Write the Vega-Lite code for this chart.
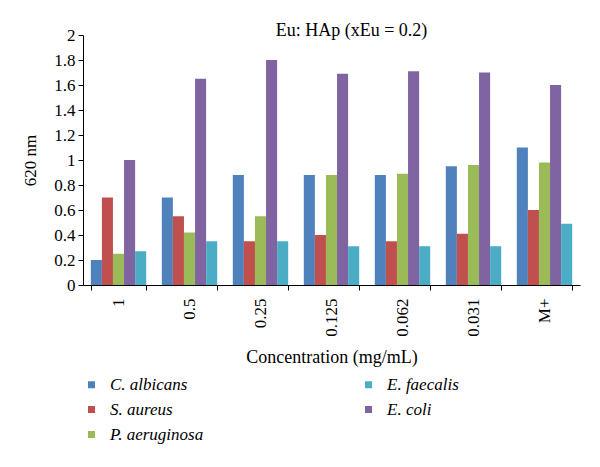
{
  "$schema": "https://vega.github.io/schema/vega-lite/v6.json",
  "width": 497,
  "height": 250,
  "autosize": {"type": "none"},
  "padding": {"left": 83, "top": 35, "right": 20, "bottom": 182},
  "background": "white",
  "config": {
    "font": "Liberation Serif, serif",
    "view": {"stroke": null},
    "axis": {"domainColor": "#000", "tickColor": "#000", "labelColor": "#000", "titleColor": "#000", "grid": false, "labelFont": "Liberation Serif, serif", "titleFont": "Liberation Serif, serif", "titleFontWeight": "normal"},
    "legend": {"labelFont": "Liberation Serif, serif"},
    "title": {"font": "Liberation Serif, serif"}
  },
  "title": {"text": "Eu: HAp (xEu = 0.2)", "fontSize": 18, "fontWeight": "normal", "color": "#000", "anchor": "middle", "dx": 20, "offset": -14},
  "data": {"values": [
    {"c": "1", "s": "C. albicans", "v": 0.2},
    {"c": "1", "s": "S. aureus", "v": 0.7},
    {"c": "1", "s": "P. aeruginosa", "v": 0.25},
    {"c": "1", "s": "E. coli", "v": 1.0},
    {"c": "1", "s": "E. faecalis", "v": 0.27},
    {"c": "0.5", "s": "C. albicans", "v": 0.7},
    {"c": "0.5", "s": "S. aureus", "v": 0.55},
    {"c": "0.5", "s": "P. aeruginosa", "v": 0.42},
    {"c": "0.5", "s": "E. coli", "v": 1.65},
    {"c": "0.5", "s": "E. faecalis", "v": 0.35},
    {"c": "0.25", "s": "C. albicans", "v": 0.88},
    {"c": "0.25", "s": "S. aureus", "v": 0.35},
    {"c": "0.25", "s": "P. aeruginosa", "v": 0.55},
    {"c": "0.25", "s": "E. coli", "v": 1.8},
    {"c": "0.25", "s": "E. faecalis", "v": 0.35},
    {"c": "0.125", "s": "C. albicans", "v": 0.88},
    {"c": "0.125", "s": "S. aureus", "v": 0.4},
    {"c": "0.125", "s": "P. aeruginosa", "v": 0.88},
    {"c": "0.125", "s": "E. coli", "v": 1.69},
    {"c": "0.125", "s": "E. faecalis", "v": 0.31},
    {"c": "0.062", "s": "C. albicans", "v": 0.88},
    {"c": "0.062", "s": "S. aureus", "v": 0.35},
    {"c": "0.062", "s": "P. aeruginosa", "v": 0.89},
    {"c": "0.062", "s": "E. coli", "v": 1.71},
    {"c": "0.062", "s": "E. faecalis", "v": 0.31},
    {"c": "0.031", "s": "C. albicans", "v": 0.95},
    {"c": "0.031", "s": "S. aureus", "v": 0.41},
    {"c": "0.031", "s": "P. aeruginosa", "v": 0.96},
    {"c": "0.031", "s": "E. coli", "v": 1.7},
    {"c": "0.031", "s": "E. faecalis", "v": 0.31},
    {"c": "M+", "s": "C. albicans", "v": 1.1},
    {"c": "M+", "s": "S. aureus", "v": 0.6},
    {"c": "M+", "s": "P. aeruginosa", "v": 0.98},
    {"c": "M+", "s": "E. coli", "v": 1.6},
    {"c": "M+", "s": "E. faecalis", "v": 0.49}
  ]},
  "mark": {"type": "bar"},
  "encoding": {
    "x": {
      "field": "c", "type": "nominal",
      "sort": ["1", "0.5", "0.25", "0.125", "0.062", "0.031", "M+"],
      "scale": {"paddingInner": 0.22, "paddingOuter": 0.11},
      "axis": {"title": "Concentration (mg/mL)", "titleFontSize": 18, "labelFontSize": 17, "labelAngle": -90, "labelAlign": "right", "labelBaseline": "middle", "tickBand": "extent", "tickSize": 5, "labelPadding": 8, "titlePadding": 12}
    },
    "xOffset": {
      "field": "s", "type": "nominal",
      "sort": ["C. albicans", "S. aureus", "P. aeruginosa", "E. coli", "E. faecalis"],
      "scale": {"paddingInner": 0, "paddingOuter": 0}
    },
    "y": {
      "field": "v", "type": "quantitative",
      "scale": {"domain": [0, 2], "nice": false},
      "axis": {"title": "620 nm", "titleFontSize": 17, "labelFontSize": 17, "format": "~g", "values": [0, 0.2, 0.4, 0.6, 0.8, 1, 1.2, 1.4, 1.6, 1.8, 2], "tickSize": 5, "labelPadding": 3, "titlePadding": 14, "labelFlush": false}
    },
    "color": {
      "field": "s", "type": "nominal",
      "scale": {
        "domain": ["C. albicans", "S. aureus", "P. aeruginosa", "E. faecalis", "E. coli"],
        "range": ["#4F81BD", "#C0504D", "#9BBB59", "#4BACC6", "#8064A2"]
      },
      "legend": {"title": null, "orient": "none", "legendX": 0, "legendY": 341, "columns": 2, "columnPadding": 156, "rowPadding": 7, "symbolType": "square", "symbolSize": 49, "symbolStrokeWidth": 0, "labelFontSize": 17, "labelFontStyle": "italic", "labelColor": "#000", "labelOffset": 10}
    }
  }
}
